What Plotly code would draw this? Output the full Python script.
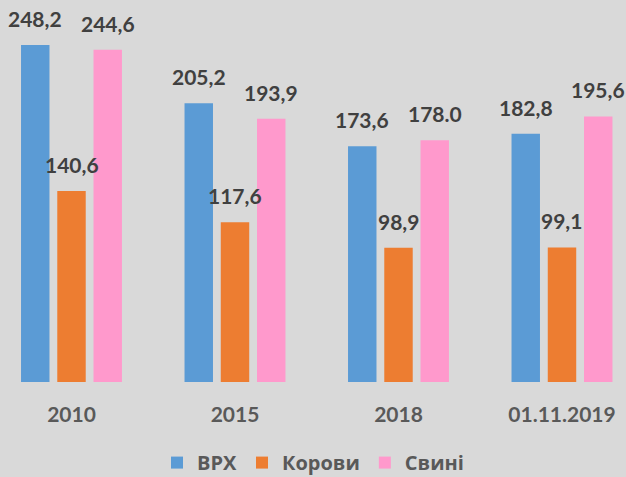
import plotly.graph_objects as go

categories = ["2010", "2015", "2018", "01.11.2019"]
series_names = ["ВРХ", "Корови", "Свині"]
vrh = [248.2, 205.2, 173.6, 182.8]
korovy = [140.6, 117.6, 98.9, 99.1]
svyni = [244.6, 193.9, 178.0, 195.6]
vrh_labels = ["248,2", "205,2", "173,6", "182,8"]
korovy_labels = ["140,6", "117,6", "98,9", "99,1"]
svyni_labels = ["244,6", "193,9", "178.0", "195,6"]

colors = ["#5B9BD5", "#ED7D31", "#FF99CC"]
BG = "#D9D9D9"
FONT = "Lato, 'Open Sans', sans-serif"
LEGEND_FONT = "'Open Sans', 'Noto Sans', sans-serif"

xs = list(range(len(categories)))
values = [vrh, korovy, svyni]
labels = [vrh_labels, korovy_labels, svyni_labels]

bargap = 0.335
bargroupgap = 0.215
slot = (1 - bargap) / len(values)

fig = go.Figure()
annotations = []
for k, (name, vals, labs, col) in enumerate(zip(series_names, values, labels, colors)):
    fig.add_trace(go.Bar(x=xs, y=vals, name=name, marker=dict(color=col, line=dict(width=0))))
    off = (k - (len(values) - 1) / 2) * slot
    for x, v, t in zip(xs, vals, labs):
        annotations.append(dict(x=x + off, y=v, xref="x", yref="y", text=t, showarrow=False,
                                yanchor="bottom", yshift=12,
                                font=dict(family=FONT, size=21, color="#404040", weight="bold")))

fig.update_layout(
    width=626, height=477,
    margin=dict(l=0, r=0, t=0, b=95, autoexpand=False),
    paper_bgcolor=BG, plot_bgcolor=BG,
    barmode="group", bargap=bargap, bargroupgap=bargroupgap,
    annotations=annotations,
    showlegend=True,
    legend=dict(orientation="h", xanchor="center", x=0.5, yref="paper", y=-0.262, yanchor="bottom",
                font=dict(family=LEGEND_FONT, size=20, color="#595959", weight="bold"),
                bgcolor="rgba(0,0,0,0)", itemclick=False, itemwidth=30, tracegroupgap=0),
    xaxis=dict(range=[-0.4373, 3.3915], tickvals=xs, ticktext=categories, showgrid=False,
               zeroline=False, showline=False, ticks="", ticklabelstandoff=18, automargin=False,
               tickfont=dict(family=FONT, size=21, color="#595959", weight="bold")),
    yaxis=dict(range=[0, 281.3], visible=False, showgrid=False, zeroline=False, automargin=False),
)

fig.write_html("out.html")
